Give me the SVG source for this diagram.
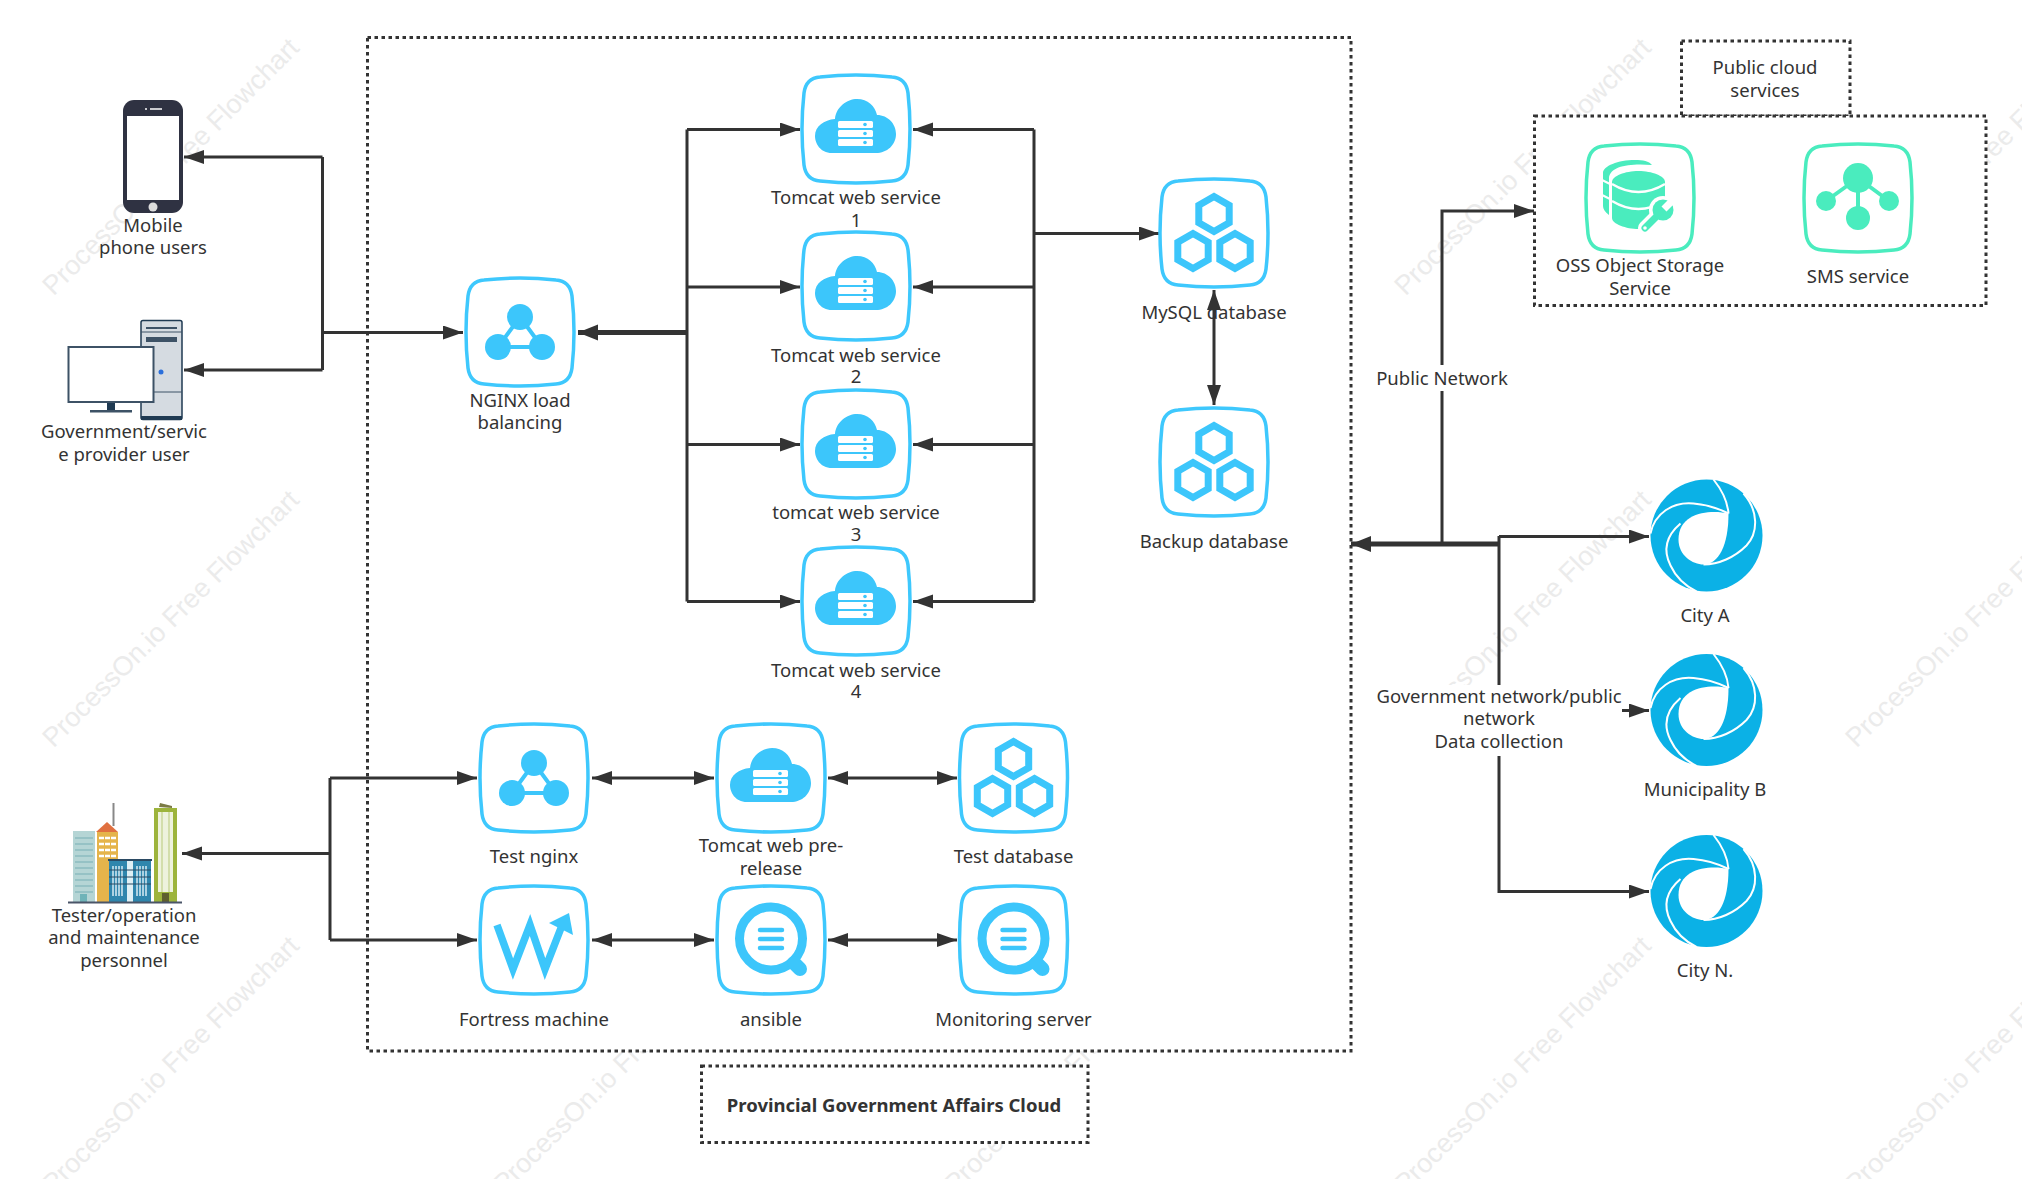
<svg xmlns="http://www.w3.org/2000/svg" xmlns:xlink="http://www.w3.org/1999/xlink" width="2022" height="1179" viewBox="0 0 2022 1179">
<style>
text{font-family:"Noto Sans","Open Sans","Liberation Sans",sans-serif;font-size:18.5px;fill:#333;text-anchor:middle}
text.wm{font-family:"Liberation Sans",Arial,sans-serif;font-size:27px;fill:#ebebeb}
.dot{fill:#fff;stroke:#333;stroke-width:3;stroke-dasharray:3.5 3.5}
.sq{fill:#fff;stroke:#3ec8fd;stroke-width:3.5}
.sqg{fill:#fff;stroke:#4aecbe;stroke-width:3.5}
.b{fill:#3cc6fb}
.g{fill:#4aecbe}
.c{fill:none;stroke:#333;stroke-width:3}
.c4{fill:none;stroke:#333;stroke-width:5}
.ca{fill:none;stroke:#fff;stroke-width:2}
</style>
<defs>
<marker id="a" markerUnits="userSpaceOnUse" markerWidth="22" markerHeight="16" refX="20" refY="7" orient="auto"><path d="M0,0L20,7L0,14Z" fill="#333"/></marker>
<marker id="s" markerUnits="userSpaceOnUse" markerWidth="22" markerHeight="16" refX="0" refY="7" orient="auto"><path d="M20,0L0,7L20,14Z" fill="#333"/></marker>
<marker id="t" markerUnits="userSpaceOnUse" markerWidth="22" markerHeight="18" refX="20" refY="8" orient="auto"><path d="M0,0L20,8L0,16Z" fill="#333"/></marker>
<path id="box" d="M-36,-52Q0,-56 36,-52Q50,-51 52,-36Q56,0 52,36Q50,51 36,52Q0,56 -36,52Q-50,51 -52,36Q-56,0 -52,-36Q-50,-51 -36,-52Z"/>
<g id="cloud"><path class="b" d="M-24,24C-36,24 -41,14 -41,7C-41,-3 -32,-9 -21,-10C-20,-22 -9,-30 1,-30C12,-30 19,-23 21,-14C32,-14 40,-5 40,5C40,16 31,24 20,24Z"/><g fill="#fff"><rect x="-18" y="-8" width="35" height="7" rx="1.5"/><rect x="-18" y="1" width="35" height="7" rx="1.5"/><rect x="-18" y="10" width="35" height="7" rx="1.5"/></g><g class="b"><circle cx="9" cy="-4.5" r="1.8"/><circle cx="9" cy="4.5" r="1.8"/><circle cx="9" cy="13.5" r="1.8"/></g></g>
<g id="tri"><path d="M0,-15L-22,15L22,15Z" fill="none" stroke="#3cc6fb" stroke-width="4"/><circle class="b" cx="0" cy="-15" r="13"/><circle class="b" cx="-22" cy="15" r="13"/><circle class="b" cx="22" cy="15" r="13"/></g>
<path id="hx" d="M0,-17.500L15.200,-8.750L15.200,8.750L0,17.500L-15.200,8.750L-15.200,-8.750Z" fill="none" stroke="#3cc6fb" stroke-width="7"/>
<g id="hex"><use href="#hx" x="0" y="-19"/><use href="#hx" x="-21" y="18"/><use href="#hx" x="21" y="18"/></g>
<g id="q"><circle cx="0" cy="-1.500" r="31.500" fill="none" stroke="#3cc6fb" stroke-width="9"/><path d="M23,23L29,29" stroke="#3cc6fb" stroke-width="14" stroke-linecap="round"/><path d="M-11,-10H11M-11,-1H11M-11,8H11" stroke="#3cc6fb" stroke-width="4.500" stroke-linecap="round"/></g>
<g id="city"><circle r="56" fill="#0bb1e6"/><path fill="#fff" d="M22,-22C5,-26 -28,-24 -28,4C-28,20 -14,29 -3,29C12,29 22,10 22,-22Z"/><path class="ca" d="M-56,-2C-52,-22 -34,-34 -13,-32C0,-31 12,-27 22,-22"/><path class="ca" d="M7,-56C15,-46 21,-35 22,-22"/><path class="ca" d="M37,-42C52,-25 52,-3 40,10C28,22 12,29 -3,29"/><path class="ca" d="M-26,-12C-40,0 -44,14 -36,30C-30,43 -20,51 -10,56"/></g>
</defs>
<rect width="2022" height="1179" fill="#fff"/>
<g id="watermark">
<text class="wm" transform="translate(177,173) rotate(-45)">ProcessOn.io Free Flowchart</text>
<text class="wm" transform="translate(177,625) rotate(-45)">ProcessOn.io Free Flowchart</text>
<text class="wm" transform="translate(177,1071) rotate(-45)">ProcessOn.io Free Flowchart</text>
<text class="wm" transform="translate(628,1071) rotate(-45)">ProcessOn.io Free Flowchart</text>
<text class="wm" transform="translate(1079,1071) rotate(-45)">ProcessOn.io Free Flowchart</text>
<text class="wm" transform="translate(1529,173) rotate(-45)">ProcessOn.io Free Flowchart</text>
<text class="wm" transform="translate(1529,625) rotate(-45)">ProcessOn.io Free Flowchart</text>
<text class="wm" transform="translate(1529,1071) rotate(-45)">ProcessOn.io Free Flowchart</text>
<text class="wm" transform="translate(1980,173) rotate(-45)">ProcessOn.io Free Flowchart</text>
<text class="wm" transform="translate(1980,625) rotate(-45)">ProcessOn.io Free Flowchart</text>
<text class="wm" transform="translate(1980,1071) rotate(-45)">ProcessOn.io Free Flowchart</text>
</g>
<g id="frames">
<rect class="dot" x="367.500" y="37.500" width="983.500" height="1013.500"/>
<rect class="dot" x="1681.500" y="41" width="168.500" height="75"/>
<rect class="dot" x="1534.500" y="116" width="451.500" height="189.500"/>
<rect class="dot" x="701.500" y="1066" width="386.500" height="76.500"/>
</g>
<g id="connectors">
<path class="c" d="M322.500,157H184" marker-end="url(#a)"/>
<path class="c" d="M322.500,370H184" marker-end="url(#a)"/>
<path class="c" d="M322.500,157V370"/>
<path class="c" d="M322.500,332.500H463" marker-end="url(#a)"/>
<path class="c4" d="M687,332.500H578" marker-end="url(#t)"/>
<path class="c" d="M687,129.500V601.500"/>
<path class="c" d="M687,129.500H800" marker-end="url(#a)"/>
<path class="c" d="M687,287H800" marker-end="url(#a)"/>
<path class="c" d="M687,444.500H800" marker-end="url(#a)"/>
<path class="c" d="M687,601.500H800" marker-end="url(#a)"/>
<path class="c" d="M1034,129.500V601.500"/>
<path class="c" d="M1034,129.500H913" marker-end="url(#a)"/>
<path class="c" d="M1034,287H913" marker-end="url(#a)"/>
<path class="c" d="M1034,444.500H913" marker-end="url(#a)"/>
<path class="c" d="M1034,601.500H913" marker-end="url(#a)"/>
<path class="c" d="M1034,233.500H1159" marker-end="url(#a)"/>
<path class="c" d="M330,778V940"/>
<path class="c" d="M330,853.500H182" marker-end="url(#a)"/>
<path class="c" d="M330,778H477" marker-end="url(#a)"/>
<path class="c" d="M330,940H477" marker-end="url(#a)"/>
<path class="c" d="M592,778H714" marker-start="url(#s)" marker-end="url(#a)"/>
<path class="c" d="M828,778H957" marker-start="url(#s)" marker-end="url(#a)"/>
<path class="c" d="M592,940H714" marker-start="url(#s)" marker-end="url(#a)"/>
<path class="c" d="M828,940H957" marker-start="url(#s)" marker-end="url(#a)"/>
<path class="c4" d="M1499,544H1351" marker-end="url(#t)"/>
<path class="c" d="M1442,544V211H1534" marker-end="url(#a)"/>
<path class="c" d="M1499,536V891.500H1649" marker-end="url(#a)"/>
<path class="c" d="M1499,536.500H1649" marker-end="url(#a)"/>
<path class="c" d="M1499,710.500H1649" marker-end="url(#a)"/>
</g>
<g id="conn-labels">
<rect x="1372" y="365" width="140" height="26" fill="#fff"/>
<text x="1442" y="385">Public Network</text>
<rect x="1376" y="685" width="246" height="71" fill="#fff"/>
<text x="1499" y="703">Government network/public</text>
<text x="1499" y="725">network</text>
<text x="1499" y="748">Data collection</text>
</g>
<g id="phone"><rect x="123" y="100" width="60" height="113" rx="11" fill="#2f3242"/><rect x="127" y="116" width="52" height="84" fill="#fff"/><circle cx="153" cy="207" r="4.500" fill="#ddd"/><path d="M150,109H162" stroke="#fff" stroke-width="1.500"/><circle cx="146" cy="109" r="1" fill="#fff"/><text x="153" y="232">Mobile</text><text x="153" y="254">phone users</text></g>
<g id="computer"><rect x="141" y="320.500" width="41" height="99" rx="2" fill="#d5dbe1" stroke="#1f3a52" stroke-width="1.500"/><path d="M141,418H182" stroke="#1f3a52" stroke-width="4"/><path d="M146,328H177" stroke="#3d5266" stroke-width="2"/><rect x="146" y="337" width="31" height="5" fill="#3d5266"/><path d="M141,392H182M141,332H182" stroke="#3d5266"/><circle cx="161" cy="372" r="2.500" fill="#2a6fdb"/><rect x="107" y="402" width="8" height="8" fill="#1f3a52"/><rect x="90" y="410" width="42" height="2.500" fill="#3d5266"/><rect x="68.500" y="347" width="85" height="55" fill="#fff" stroke="#3d5266" stroke-width="2"/><text x="124" y="438">Government/servic</text><text x="124" y="461">e provider user</text></g>
<g id="tester"><rect x="73" y="831" width="22" height="71" fill="#b5d5d5"/><path d="M75,838H93M75,844H93M75,850H93M75,856H93M75,862H93M75,868H93M75,874H93M75,880H93M75,886H93M75,892H93" stroke="#8cbcc0" stroke-width="1.500"/><rect x="80" y="894" width="7" height="8" fill="#6fb3b8"/><path d="M113.500,803V826" stroke="#888" stroke-width="2"/><path d="M96,832L107,822L118,832Z" fill="#e07040"/><rect x="97" y="832" width="21" height="70" fill="#e5b44b"/><path d="M99,838H116M99,844H116M99,850H116M99,856H116" stroke="#fff" stroke-width="2.500" stroke-dasharray="5 1"/><rect x="109" y="860" width="42" height="42" fill="#2f86ad"/><rect x="127" y="861" width="6" height="41" fill="#dff0f5"/><path d="M113,866V896M116,866V896M119,866V896M122,866V896M137,866V896M140,866V896M143,866V896M146,866V896" stroke="#d8ecf3" stroke-width="1.500"/><path d="M108,860H152" stroke="#2b4a63" stroke-width="2"/><path d="M109,870H151M109,877H151M109,884H151" stroke="#2b4a63"/><path d="M159,807L160,803L172,806L172,808Z" fill="#7b7b45"/><rect x="154" y="808" width="23" height="94" fill="#9db43c"/><rect x="158" y="812" width="15" height="80" fill="#eef2dd"/><path d="M162,812V892M169,812V892" stroke="#b9c97a"/><rect x="162" y="893" width="7" height="9" fill="#5f5f2f"/><path d="M68,902.500H182" stroke="#4a5568" stroke-width="2"/><text x="124" y="922">Tester/operation</text><text x="124" y="944">and maintenance</text><text x="124" y="967">personnel</text></g>
<g id="nginx"><use href="#box" class="sq" x="520" y="332"/><use href="#tri" x="520" y="332"/><text x="520" y="407">NGINX load</text><text x="520" y="429">balancing</text></g>
<g id="tomcat1"><use href="#box" class="sq" x="856" y="129"/><use href="#cloud" x="856" y="129"/><text x="856" y="204">Tomcat web service</text><text x="856" y="227">1</text></g>
<g id="tomcat2"><use href="#box" class="sq" x="856" y="286"/><use href="#cloud" x="856" y="286"/><text x="856" y="362">Tomcat web service</text><text x="856" y="383">2</text></g>
<g id="tomcat3"><use href="#box" class="sq" x="856" y="444"/><use href="#cloud" x="856" y="444"/><text x="856" y="519">tomcat web service</text><text x="856" y="541">3</text></g>
<g id="tomcat4"><use href="#box" class="sq" x="856" y="601"/><use href="#cloud" x="856" y="601"/><text x="856" y="677">Tomcat web service</text><text x="856" y="698">4</text></g>
<g id="mysql"><use href="#box" class="sq" x="1214" y="233"/><use href="#hex" x="1214" y="233"/></g>
<g id="backup"><use href="#box" class="sq" x="1214" y="462"/><use href="#hex" x="1214" y="462"/><text x="1214" y="548">Backup database</text></g>
<text id="mysql-label" x="1214" y="319">MySQL database</text>
<path id="db-link" class="c" d="M1214,290V405" marker-start="url(#s)" marker-end="url(#a)"/>
<g id="testnginx"><use href="#box" class="sq" x="534" y="778"/><use href="#tri" x="534" y="778"/><text x="534" y="863">Test nginx</text></g>
<g id="prerelease"><use href="#box" class="sq" x="771" y="778"/><use href="#cloud" x="771" y="778"/><text x="771" y="852">Tomcat web pre-</text><text x="771" y="875">release</text></g>
<g id="testdb"><use href="#box" class="sq" x="1013.500" y="778"/><use href="#hex" x="1013.500" y="778"/><text x="1013.500" y="863">Test database</text></g>
<g id="fortress"><use href="#box" class="sq" x="534" y="940"/><g transform="translate(534,940)"><path d="M-37,-15L-21,29L-4,-15L11,29L27,-12" fill="none" stroke="#3cc6fb" stroke-width="7.500"/><path class="b" d="M35,-27L15,-17L39,-5Z"/></g><text x="534" y="1026">Fortress machine</text></g>
<g id="ansible"><use href="#box" class="sq" x="771" y="940"/><use href="#q" x="771" y="940"/><text x="771" y="1026">ansible</text></g>
<g id="monitor"><use href="#box" class="sq" x="1013.500" y="940"/><use href="#q" x="1013.500" y="940"/><text x="1013.500" y="1026">Monitoring server</text></g>
<g id="publiccloud"><text x="1765" y="74">Public cloud</text><text x="1765" y="97">services</text></g>
<g id="oss"><use href="#box" class="sqg" x="1640" y="198"/><g transform="translate(1640,198)"><path class="g" d="M-37,-25C-37,-32 -22,-38 -5,-38C3,-38 9,-37 12,-33C-10,-35 -30,-32 -31,-20L-31,17C-35,14 -37,11 -37,8Z"/><path d="M-38,-18L-30,-14M-38,-3L-30,1" stroke="#fff" stroke-width="2"/><path class="g" d="M-28,-16C-28,-22 -15,-27 -1.500,-27C12,-27 25,-22 25,-16V20C20,26 10,31 -1.500,31C-14,31 -28,26 -28,20Z"/><path d="M-28,-14Q-1.500,2 25,-14M-28,3Q-1.500,19 25,3" fill="none" stroke="#fff" stroke-width="2.500"/><path d="M5,30L23,12" stroke="#fff" stroke-width="14" stroke-linecap="round"/><circle cx="23" cy="12" r="14" fill="#fff"/><path d="M5,30L22,13" stroke="#4aecbe" stroke-width="7" stroke-linecap="round"/><circle class="g" cx="23" cy="12" r="10.500"/><path d="M24,11L35,0" stroke="#fff" stroke-width="7"/><circle cx="5" cy="30" r="1.800" fill="#fff"/></g><text x="1640" y="272">OSS Object Storage</text><text x="1640" y="295">Service</text></g>
<g id="sms"><use href="#box" class="sqg" x="1858" y="198"/><g transform="translate(1858,198)"><path d="M0,-20V20M0,-20L-32,3M0,-20L31,3" stroke="#4aecbe" stroke-width="4"/><circle class="g" cx="0" cy="-20" r="15"/><circle class="g" cx="-32" cy="3" r="10"/><circle class="g" cx="31" cy="3" r="10"/><circle class="g" cx="0" cy="20" r="12"/></g><text x="1858" y="283">SMS service</text></g>
<g id="citya"><use href="#city" x="1706.500" y="535.500"/><text x="1705" y="622">City A</text></g>
<g id="cityb"><use href="#city" x="1706.500" y="710"/><text x="1705" y="796">Municipality B</text></g>
<g id="cityn"><use href="#city" x="1706.500" y="891"/><text x="1705" y="977">City N.</text></g>
<text id="province" x="894" y="1112" style="font-weight:700">Provincial Government Affairs Cloud</text>
</svg>
